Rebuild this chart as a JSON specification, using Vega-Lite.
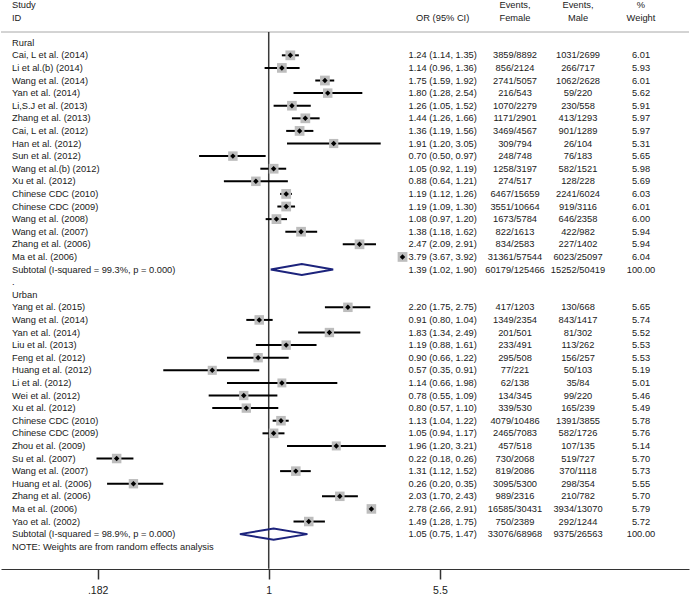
{
  "$schema": "https://vega.github.io/schema/vega-lite/v6.json",
  "width": 690,
  "height": 597,
  "autosize": {"type": "fit", "contains": "padding"},
  "padding": 0,
  "background": "white",
  "config": {
    "view": {"stroke": null},
    "text": {"font": "Liberation Sans", "fontSize": 9.3, "color": "#1a1a1a"}
  },
  "datasets": {
    "rows": [
      {"row": -3, "kind": "header", "label": "Study", "ef": "Events,", "em": "Events,", "wt": "%"},
      {"row": -2, "kind": "header", "label": "ID", "ci": "OR (95% CI)", "ef": "Female", "em": "Male", "wt": "Weight"},
      {"row": 0, "kind": "group", "label": "Rural"},
      {"row": 1, "kind": "study", "label": "Cai, L et al. (2014)", "or": 1.24, "lo": 1.14, "hi": 1.35, "ci": "1.24 (1.14, 1.35)", "ef": "3859/8892", "em": "1031/2699", "w": 6.01, "wt": "6.01"},
      {"row": 2, "kind": "study", "label": "Li et al.(b) (2014)", "or": 1.14, "lo": 0.96, "hi": 1.36, "ci": "1.14 (0.96, 1.36)", "ef": "856/2124", "em": "266/717", "w": 5.93, "wt": "5.93"},
      {"row": 3, "kind": "study", "label": "Wang et al.  (2014)", "or": 1.75, "lo": 1.59, "hi": 1.92, "ci": "1.75 (1.59, 1.92)", "ef": "2741/5057", "em": "1062/2628", "w": 6.01, "wt": "6.01"},
      {"row": 4, "kind": "study", "label": "Yan et al. (2014)", "or": 1.80, "lo": 1.28, "hi": 2.54, "ci": "1.80 (1.28, 2.54)", "ef": "216/543", "em": "59/220", "w": 5.62, "wt": "5.62"},
      {"row": 5, "kind": "study", "label": "Li,S.J et al. (2013)", "or": 1.26, "lo": 1.05, "hi": 1.52, "ci": "1.26 (1.05, 1.52)", "ef": "1070/2279", "em": "230/558", "w": 5.91, "wt": "5.91"},
      {"row": 6, "kind": "study", "label": "Zhang et al.  (2013)", "or": 1.44, "lo": 1.26, "hi": 1.66, "ci": "1.44 (1.26, 1.66)", "ef": "1171/2901", "em": "413/1293", "w": 5.97, "wt": "5.97"},
      {"row": 7, "kind": "study", "label": "Cai, L et al. (2012)", "or": 1.36, "lo": 1.19, "hi": 1.56, "ci": "1.36 (1.19, 1.56)", "ef": "3469/4567", "em": "901/1289", "w": 5.97, "wt": "5.97"},
      {"row": 8, "kind": "study", "label": "Han et al. (2012)", "or": 1.91, "lo": 1.20, "hi": 3.05, "ci": "1.91 (1.20, 3.05)", "ef": "309/794", "em": "26/104", "w": 5.31, "wt": "5.31"},
      {"row": 9, "kind": "study", "label": "Sun et al. (2012)", "or": 0.70, "lo": 0.50, "hi": 0.97, "ci": "0.70 (0.50, 0.97)", "ef": "248/748", "em": "76/183", "w": 5.65, "wt": "5.65"},
      {"row": 10, "kind": "study", "label": "Wang et al.(b)  (2012)", "or": 1.05, "lo": 0.92, "hi": 1.19, "ci": "1.05 (0.92, 1.19)", "ef": "1258/3197", "em": "582/1521", "w": 5.98, "wt": "5.98"},
      {"row": 11, "kind": "study", "label": "Xu et al.  (2012)", "or": 0.88, "lo": 0.64, "hi": 1.21, "ci": "0.88 (0.64, 1.21)", "ef": "274/517", "em": "128/228", "w": 5.69, "wt": "5.69"},
      {"row": 12, "kind": "study", "label": "Chinese CDC (2010)", "or": 1.19, "lo": 1.12, "hi": 1.26, "ci": "1.19 (1.12, 1.26)", "ef": "6467/15659", "em": "2241/6024", "w": 6.03, "wt": "6.03"},
      {"row": 13, "kind": "study", "label": "Chinese CDC (2009)", "or": 1.19, "lo": 1.09, "hi": 1.30, "ci": "1.19 (1.09, 1.30)", "ef": "3551/10664", "em": "919/3116", "w": 6.01, "wt": "6.01"},
      {"row": 14, "kind": "study", "label": "Wang et al. (2008)", "or": 1.08, "lo": 0.97, "hi": 1.20, "ci": "1.08 (0.97, 1.20)", "ef": "1673/5784", "em": "646/2358", "w": 6.00, "wt": "6.00"},
      {"row": 15, "kind": "study", "label": "Wang et al. (2007)", "or": 1.38, "lo": 1.18, "hi": 1.62, "ci": "1.38 (1.18, 1.62)", "ef": "822/1613", "em": "422/982", "w": 5.94, "wt": "5.94"},
      {"row": 16, "kind": "study", "label": "Zhang et al. (2006)", "or": 2.47, "lo": 2.09, "hi": 2.91, "ci": "2.47 (2.09, 2.91)", "ef": "834/2583", "em": "227/1402", "w": 5.94, "wt": "5.94"},
      {"row": 17, "kind": "study", "label": "Ma et al. (2006)", "or": 3.79, "lo": 3.67, "hi": 3.92, "ci": "3.79 (3.67, 3.92)", "ef": "31361/57544", "em": "6023/25097", "w": 6.04, "wt": "6.04"},
      {"row": 18, "kind": "subtotal", "label": "Subtotal  (I-squared = 99.3%, p = 0.000)", "or": 1.39, "lo": 1.02, "hi": 1.90, "ci": "1.39 (1.02, 1.90)", "ef": "60179/125466", "em": "15252/50419", "wt": "100.00"},
      {"row": 19, "kind": "blank", "label": "."},
      {"row": 20, "kind": "group", "label": "Urban"},
      {"row": 21, "kind": "study", "label": "Yang et al. (2015)", "or": 2.20, "lo": 1.75, "hi": 2.75, "ci": "2.20 (1.75, 2.75)", "ef": "417/1203", "em": "130/668", "w": 5.65, "wt": "5.65"},
      {"row": 22, "kind": "study", "label": "Wang et al. (2014)", "or": 0.91, "lo": 0.80, "hi": 1.04, "ci": "0.91 (0.80, 1.04)", "ef": "1349/2354", "em": "843/1417", "w": 5.74, "wt": "5.74"},
      {"row": 23, "kind": "study", "label": "Yan et al. (2014)", "or": 1.83, "lo": 1.34, "hi": 2.49, "ci": "1.83 (1.34, 2.49)", "ef": "201/501", "em": "81/302", "w": 5.52, "wt": "5.52"},
      {"row": 24, "kind": "study", "label": "Liu et al. (2013)", "or": 1.19, "lo": 0.88, "hi": 1.61, "ci": "1.19 (0.88, 1.61)", "ef": "233/491", "em": "113/262", "w": 5.53, "wt": "5.53"},
      {"row": 25, "kind": "study", "label": "Feng et al.  (2012)", "or": 0.90, "lo": 0.66, "hi": 1.22, "ci": "0.90 (0.66, 1.22)", "ef": "295/508", "em": "156/257", "w": 5.53, "wt": "5.53"},
      {"row": 26, "kind": "study", "label": "Huang et al.  (2012)", "or": 0.57, "lo": 0.35, "hi": 0.91, "ci": "0.57 (0.35, 0.91)", "ef": "77/221", "em": "50/103", "w": 5.19, "wt": "5.19"},
      {"row": 27, "kind": "study", "label": "Li et al.  (2012)", "or": 1.14, "lo": 0.66, "hi": 1.98, "ci": "1.14 (0.66, 1.98)", "ef": "62/138", "em": "35/84", "w": 5.01, "wt": "5.01"},
      {"row": 28, "kind": "study", "label": "Wei et al.  (2012)", "or": 0.78, "lo": 0.55, "hi": 1.09, "ci": "0.78 (0.55, 1.09)", "ef": "134/345", "em": "99/220", "w": 5.46, "wt": "5.46"},
      {"row": 29, "kind": "study", "label": "Xu et al.  (2012)", "or": 0.80, "lo": 0.57, "hi": 1.10, "ci": "0.80 (0.57, 1.10)", "ef": "339/530", "em": "165/239", "w": 5.49, "wt": "5.49"},
      {"row": 30, "kind": "study", "label": "Chinese CDC (2010)", "or": 1.13, "lo": 1.04, "hi": 1.22, "ci": "1.13 (1.04, 1.22)", "ef": "4079/10486", "em": "1391/3855", "w": 5.78, "wt": "5.78"},
      {"row": 31, "kind": "study", "label": "Chinese CDC (2009)", "or": 1.05, "lo": 0.94, "hi": 1.17, "ci": "1.05 (0.94, 1.17)", "ef": "2465/7083", "em": "582/1726", "w": 5.76, "wt": "5.76"},
      {"row": 32, "kind": "study", "label": "Zhou et al.  (2009)", "or": 1.96, "lo": 1.20, "hi": 3.21, "ci": "1.96 (1.20, 3.21)", "ef": "457/518", "em": "107/135", "w": 5.14, "wt": "5.14"},
      {"row": 33, "kind": "study", "label": "Su et al.  (2007)", "or": 0.22, "lo": 0.18, "hi": 0.26, "ci": "0.22 (0.18, 0.26)", "ef": "730/2068", "em": "519/727", "w": 5.70, "wt": "5.70"},
      {"row": 34, "kind": "study", "label": "Wang et al.  (2007)", "or": 1.31, "lo": 1.12, "hi": 1.52, "ci": "1.31 (1.12, 1.52)", "ef": "819/2086", "em": "370/1118", "w": 5.73, "wt": "5.73"},
      {"row": 35, "kind": "study", "label": "Huang et al. (2006)", "or": 0.26, "lo": 0.20, "hi": 0.35, "ci": "0.26 (0.20, 0.35)", "ef": "3095/5300", "em": "298/354", "w": 5.55, "wt": "5.55"},
      {"row": 36, "kind": "study", "label": "Zhang et al. (2006)", "or": 2.03, "lo": 1.70, "hi": 2.43, "ci": "2.03 (1.70, 2.43)", "ef": "989/2316", "em": "210/782", "w": 5.70, "wt": "5.70"},
      {"row": 37, "kind": "study", "label": "Ma et al. (2006)", "or": 2.78, "lo": 2.66, "hi": 2.91, "ci": "2.78 (2.66, 2.91)", "ef": "16585/30431", "em": "3934/13070", "w": 5.79, "wt": "5.79"},
      {"row": 38, "kind": "study", "label": "Yao et al. (2002)", "or": 1.49, "lo": 1.28, "hi": 1.75, "ci": "1.49 (1.28, 1.75)", "ef": "750/2389", "em": "292/1244", "w": 5.72, "wt": "5.72"},
      {"row": 39, "kind": "subtotal", "label": "Subtotal  (I-squared = 98.9%, p = 0.000)", "or": 1.05, "lo": 0.75, "hi": 1.47, "ci": "1.05 (0.75, 1.47)", "ef": "33076/68968", "em": "9375/26563", "wt": "100.00"},
      {"row": 40, "kind": "note", "label": "NOTE: Weights are from random effects analysis"}
    ],
    "diamonds": [
      {"grp": "Rural", "row": 18, "v": 1, "side": 0, "x": 1.02},
      {"grp": "Rural", "row": 18, "v": 2, "side": -1, "x": 1.39},
      {"grp": "Rural", "row": 18, "v": 3, "side": 0, "x": 1.90},
      {"grp": "Rural", "row": 18, "v": 4, "side": 1, "x": 1.39},
      {"grp": "Rural", "row": 18, "v": 5, "side": 0, "x": 1.02},
      {"grp": "Urban", "row": 39, "v": 1, "side": 0, "x": 0.75},
      {"grp": "Urban", "row": 39, "v": 2, "side": -1, "x": 1.05},
      {"grp": "Urban", "row": 39, "v": 3, "side": 0, "x": 1.47},
      {"grp": "Urban", "row": 39, "v": 4, "side": 1, "x": 1.05},
      {"grp": "Urban", "row": 39, "v": 5, "side": 0, "x": 0.75}
    ]
  },
  "layer": [
    {
      "layer": [
        {
          "data": {"values": [{}]},
          "mark": {"type": "rule", "color": "#a8a8a8", "strokeWidth": 1},
          "encoding": {
            "y": {"datum": -0.85, "type": "quantitative", "scale": {"domain": [-3.39, 43.99], "reverse": true, "nice": false, "zero": false}, "axis": null}
          }
        },
        {
          "data": {"values": [{}]},
          "mark": {"type": "rule", "color": "#3a3a3a", "strokeWidth": 1.5},
          "encoding": {
            "x": {"datum": 1, "type": "quantitative"},
            "y": {"datum": -0.85, "type": "quantitative"},
            "y2": {"datum": 41.75}
          }
        },
        {
          "data": {"name": "rows"},
          "transform": [{"filter": "datum.kind == 'study'"}],
          "mark": {"type": "rule", "color": "#000000", "strokeWidth": 2},
          "encoding": {
            "x": {
              "field": "lo", "type": "quantitative",
              "scale": {"type": "log", "domain": [0.06955, 65.69], "nice": false, "zero": false},
              "axis": {
                "values": [0.182, 1, 5.5], "format": "~g",
                "labelExpr": "datum.value < 0.5 ? '.182' : datum.label",
                "offset": -28, "orient": "bottom", "title": null, "grid": false,
                "domainColor": "#333333", "domainWidth": 1.2,
                "tickColor": "#333333", "tickWidth": 1.5, "tickSize": 10,
                "labelFont": "Liberation Sans", "labelFontSize": 10.5, "labelColor": "#1a1a1a",
                "labelPadding": 6
              }
            },
            "x2": {"field": "hi"},
            "y": {"field": "row", "type": "quantitative"}
          }
        },
        {
          "data": {"name": "rows"},
          "transform": [{"filter": "datum.kind == 'study'"}],
          "mark": {"type": "point", "shape": "square", "filled": true, "color": "#bdbdbd", "opacity": 1},
          "encoding": {
            "x": {"field": "or", "type": "quantitative"},
            "y": {"field": "row", "type": "quantitative"},
            "size": {"field": "w", "type": "quantitative", "scale": {"domain": [0, 6], "range": [0, 95]}, "legend": null}
          }
        },
        {
          "data": {"name": "rows"},
          "transform": [{"filter": "datum.kind == 'study'"}],
          "mark": {"type": "point", "shape": "diamond", "filled": true, "color": "#000000", "opacity": 1, "size": 30},
          "encoding": {
            "x": {"field": "or", "type": "quantitative"},
            "y": {"field": "row", "type": "quantitative"}
          }
        },
        {
          "data": {"name": "diamonds"},
          "mark": {"type": "line", "color": "#1c237c", "strokeWidth": 2, "yOffset": {"expr": "datum.side * 5.5"}},
          "encoding": {
            "x": {"field": "x", "type": "quantitative"},
            "y": {"field": "row", "type": "quantitative"},
            "order": {"field": "v"},
            "detail": {"field": "grp"}
          }
        }
      ]
    },
    {
      "data": {"name": "rows"},
      "transform": [
        {"fold": ["label", "ci", "ef", "em", "wt"], "as": ["col", "val"]},
        {"filter": "isValid(datum.val)"}
      ],
      "layer": [
        {
          "transform": [{"filter": "datum.col == 'label'"}],
          "mark": {"type": "text", "align": "left", "baseline": "middle"},
          "encoding": {
            "x": {"field": "col", "type": "nominal", "scale": {"type": "point", "domain": ["label"], "range": [11, 11]}, "axis": null},
            "y": {"field": "row", "type": "quantitative"},
            "text": {"field": "val"}
          }
        },
        {
          "transform": [{"filter": "datum.col == 'ci'"}],
          "mark": {"type": "text", "align": "center", "baseline": "middle"},
          "encoding": {
            "x": {"field": "col", "type": "nominal", "scale": {"type": "point", "domain": ["ci"], "range": [441.7, 441.7]}, "axis": null},
            "y": {"field": "row", "type": "quantitative"},
            "text": {"field": "val"}
          }
        },
        {
          "transform": [{"filter": "datum.col == 'ef' || datum.col == 'em' || datum.col == 'wt'"}],
          "mark": {"type": "text", "align": "center", "baseline": "middle"},
          "encoding": {
            "x": {"field": "col", "type": "nominal", "scale": {"type": "point", "domain": ["ef", "em", "wt"], "range": [514, 640], "padding": 0}, "axis": null},
            "y": {"field": "row", "type": "quantitative"},
            "text": {"field": "val"}
          }
        }
      ],
      "resolve": {"scale": {"x": "independent"}}
    }
  ],
  "resolve": {"scale": {"x": "independent"}}
}
